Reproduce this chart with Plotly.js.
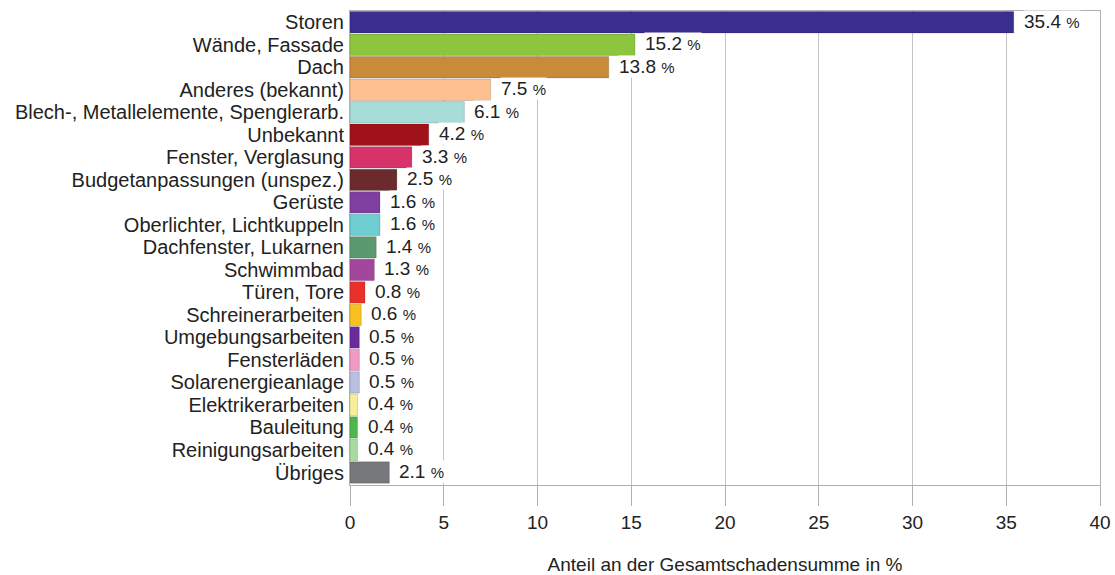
<!DOCTYPE html>
<html><head><meta charset="utf-8">
<script src="https://cdn.plot.ly/plotly-3.0.1.min.js"></script>
<style>html,body{margin:0;padding:0;background:#fff}</style>
</head><body>
<div id="chart" style="width:1115px;height:575px"></div>
<script>
const categories = ["Storen","Wände, Fassade","Dach","Anderes (bekannt)","Blech-, Metallelemente, Spenglerarb.","Unbekannt","Fenster, Verglasung","Budgetanpassungen (unspez.)","Gerüste","Oberlichter, Lichtkuppeln","Dachfenster, Lukarnen","Schwimmbad","Türen, Tore","Schreinerarbeiten","Umgebungsarbeiten","Fensterläden","Solarenergieanlage","Elektrikerarbeiten","Bauleitung","Reinigungsarbeiten","Übriges"];
const values = [35.4,15.2,13.8,7.5,6.1,4.2,3.3,2.5,1.6,1.6,1.4,1.3,0.8,0.6,0.5,0.5,0.5,0.4,0.4,0.4,2.1];
const colors = ["#3a2f8f","#8cc63f","#c98b3a","#fdc18f","#a8dcd9","#a0111a","#d6336b","#6b2a2e","#7e3fa0","#6ecdd0","#5a9a6e","#a3479e","#e8312a","#f7c11f","#6a2a9a","#f09ac5","#b8bfe0","#f6f09a","#4cb84a","#a8dba0","#76787b"];
const tickVals = [0,5,10,15,20,25,30,35,40];

const font = "Liberation Sans, Arial, sans-serif";
const trace = {
  type: "bar", orientation: "h",
  x: values, y: categories,
  marker: {color: colors, line: {color: "rgba(0,0,0,0.25)", width: 0.6}},
  hoverinfo: "none"
};
const annotations = values.map((v, i) => ({
  x: v, y: categories[i], xref: "x", yref: "y",
  text: v.toFixed(1) + ' <span style="font-size:15px">%</span>',
  showarrow: false, xanchor: "left", yanchor: "middle",
  xshift: 9, yshift: 1, bgcolor: "#ffffff", borderpad: 0,
  font: {family: font, size: 19, color: "#222"}
}));
const layout = {
  width: 1115, height: 575,
  margin: {l: 350, r: 15, t: 11, b: 90},
  paper_bgcolor: "#fff", plot_bgcolor: "#fff",
  showlegend: false,
  bargap: 0.05,
  font: {family: font, color: "#222", size: 19},
  xaxis: {
    range: [0, 40], tickvals: tickVals, ticktext: tickVals.map(String),
    showgrid: true, gridcolor: "#c4c4c4", gridwidth: 1,
    zeroline: false,
    showline: true, linecolor: "#b0b0b0", linewidth: 1, mirror: true,
    ticks: "outside", ticklen: 20, tickcolor: "#b0b0b0", tickwidth: 1,
    tickfont: {family: font, size: 19, color: "#222"},
    title: {text: "Anteil an der Gesamtschadensumme in %", font: {family: font, size: 19, color: "#222"}, standoff: 31},
    fixedrange: true
  },
  yaxis: {
    categoryorder: "array", categoryarray: categories,
    tickmode: "array", tickvals: categories, ticktext: categories,
    autorange: "reversed",
    showgrid: false, zeroline: false,
    showline: true, linecolor: "#b0b0b0", linewidth: 1, mirror: true,
    ticks: "", ticklabelstandoff: 1,
    tickfont: {family: font, size: 20, color: "#222"},
    fixedrange: true
  },
  annotations: annotations
};
Plotly.newPlot("chart", [trace], layout, {displayModeBar: false, staticPlot: true});
</script>
</body></html>
